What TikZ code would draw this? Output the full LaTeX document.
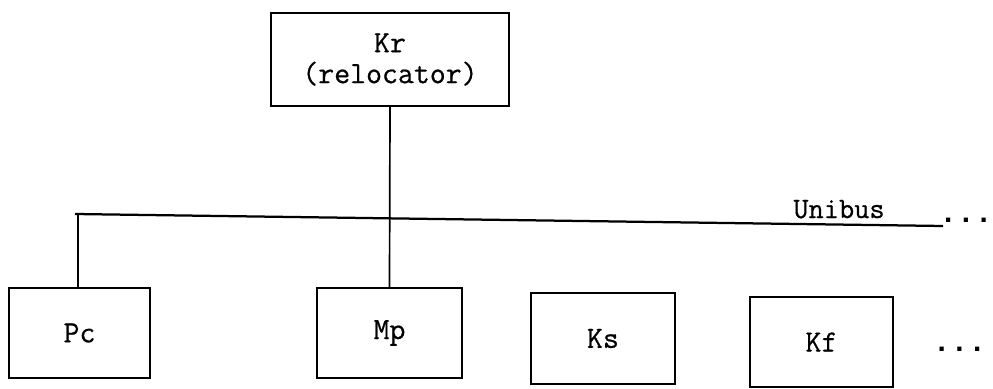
\documentclass[tikz,border=0pt]{standalone}
\usepackage{fontspec}
\newfontfamily\typefont[FakeBold=0.6]{Latin Modern Mono}
\newfontfamily\dotfont{Liberation Mono}
\usepackage{tikz}
\usetikzlibrary{calc}

\tikzset{
	unit/.style={draw, line width=1.6pt, inner sep=0pt, align=center, font=\typefont\bfseries\fontsize{22}{22}\selectfont},
	wire/.style={line width=1.2pt},
	dots/.style={inner sep=0pt, font=\dotfont\bfseries\fontsize{21}{21}\selectfont}
}

\begin{document}
\begin{tikzpicture}[x=0.025cm, y=-0.025cm]
			%%%%% START %%%%%
			\useasboundingbox (0, 0) rectangle (993, 388);
			
			\node[unit, minimum width=5.95cm, minimum height=2.325cm] (kr) at (390, 59.5) {Kr\\(relocator)};
			
			\node[unit, minimum width=3.525cm, minimum height=2.25cm] (pc) at (79.5, 333) {Pc};
			\node[unit, minimum width=3.625cm, minimum height=2.25cm] (mp) at (389.5, 333) {Mp};
			\node[unit, minimum width=3.6cm, minimum height=2.275cm] (ks) at (603, 338.5) {Ks};
			\node[unit, minimum width=3.575cm, minimum height=2.25cm] (kf) at (821.5, 342) {Kf};
			
			\coordinate (busl) at (75, 214);
			\coordinate (busr) at (943, 226);
			\coordinate (pctap) at (78, 214);
			\draw[wire, line width=1.6pt] (busl) -- (busr);
			\node[anchor=base, inner sep=0pt, font=\typefont\bfseries\fontsize{21}{21}\selectfont] (unibus) at (839, 218) {Unibus};
			\node[dots] (busdots) at (966, 220) {...};
			
			\draw[wire] (kr.south) -- (mp.north);
			\draw[wire] (pctap) -- (pctap |- pc.north);
			
			\node[dots] (kfdots) at (959.5, 349) {...};
			%%%%% END %%%%%
\end{tikzpicture}
\end{document}
